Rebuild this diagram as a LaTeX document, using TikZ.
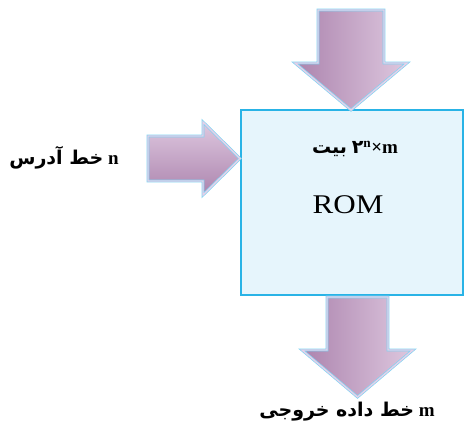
\documentclass[tikz,border=0pt]{standalone}
\usepackage{fontspec}
\setmainfont{Liberation Serif}
\newfontfamily\arabicfont[Script=Arabic]{DejaVu Sans}
\newfontfamily\romfont[FakeStretch=1.15]{Liberation Serif}
\TeXXeTstate=1
\usepackage{tikz}
\definecolor{boxline}{HTML}{29B3E6}
\definecolor{boxfill}{HTML}{E6F5FC}
\definecolor{arrowline}{HTML}{80D2F2}
\definecolor{arrowdark}{HTML}{AC84AE}
\definecolor{arrowlight}{HTML}{DEC8DF}
\definecolor{arrowrim}{HTML}{E6D0E8}
\tikzstyle{block}=[draw=boxline, fill=boxfill, line width=1.8pt]
\tikzstyle{arrowbody}=[draw=arrowline, double=arrowrim, double distance=1.4pt, line width=0.7pt, line join=miter]
\tikzstyle{label}=[font=\bfseries\fontsize{19}{22}\selectfont, inner sep=0pt]

\begin{document}
\begin{tikzpicture}[x=1pt,y=-1pt]
 	\useasboundingbox (0,0) rectangle (465,429);
 	% ROM block
 	\path[block] (241,110) rectangle (463,295);
 	% arrows
 	\path[arrowbody, left color=arrowdark, right color=arrowlight] (318,10) -- (384,10) -- (384,63) -- (407,63) -- (351,110) -- (295,63) -- (318,63) -- cycle;
 	\path[arrowbody, top color=arrowlight, bottom color=arrowdark] (148,136) -- (203,136) -- (203,122) -- (240,158.5) -- (203,195) -- (203,181) -- (148,181) -- cycle;
 	\path[arrowbody, left color=arrowdark, right color=arrowlight] (327,297) -- (388,297) -- (388,350) -- (413,350) -- (357.5,397) -- (302,350) -- (327,350) -- cycle;
 	% texts
 	\node[label] (addr) at (64,158) {{\arabicfont\beginR خط آدرس\endR} n};
 	\node[label] (size) at (355,149) {{\arabicfont\beginR بیت\endR} {\arabicfont ۲}\textsuperscript{n}×m};
 	\node[font=\romfont\fontsize{27}{32}\selectfont, inner sep=0pt] (rom) at (348,205) {ROM};
 	\node[label] (out) at (347,412) {{\arabicfont\beginR خط داده خروجی\endR} m};
\end{tikzpicture}
\end{document}
